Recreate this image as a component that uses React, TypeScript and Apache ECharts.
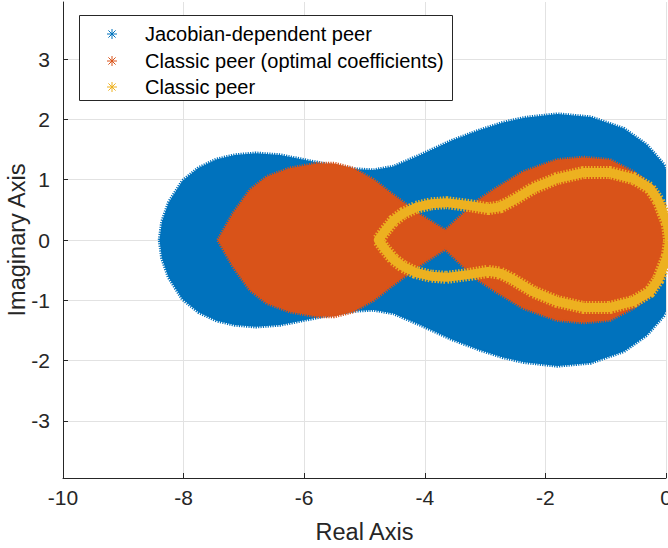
import { useEffect, useRef } from "react";
import * as echarts from "echarts";

// Axis ticks
const xTicks = [-10, -8, -6, -4, -2, 0];
const yTicks = [-3, -2, -1, 0, 1, 2, 3];

// Stability region of the Jacobian-dependent peer method (closed boundary, Re/Im)
const jacobianBoundary: [number, number][] = [
  [-8.4, 0.0], [-8.36, 0.3], [-8.25, 0.62], [-8.02, 0.98], [-7.75, 1.2], [-7.45, 1.34],
  [-7.15, 1.41], [-6.8, 1.44], [-6.4, 1.41], [-6.0, 1.33], [-5.6, 1.25], [-5.2, 1.18],
  [-4.85, 1.16], [-4.52, 1.22], [-4.1, 1.4], [-3.55, 1.65], [-3.1, 1.82], [-2.7, 1.95],
  [-2.35, 2.03], [-1.8, 2.09], [-1.25, 2.04], [-0.7, 1.85], [-0.32, 1.58], [-0.04, 1.26],
  [0.15, 0.85], [0.25, 0.0],
  [0.15, -0.85], [-0.04, -1.26], [-0.32, -1.58], [-0.7, -1.85], [-1.25, -2.04], [-1.8, -2.09],
  [-2.35, -2.03], [-2.7, -1.95], [-3.1, -1.82], [-3.55, -1.65], [-4.1, -1.4], [-4.52, -1.22],
  [-4.85, -1.16], [-5.2, -1.18], [-5.6, -1.25], [-6.0, -1.33], [-6.4, -1.41], [-6.8, -1.44],
  [-7.15, -1.41], [-7.45, -1.34], [-7.75, -1.2], [-8.02, -0.98], [-8.25, -0.62], [-8.36, -0.3],
];

// Stability region of the classic peer method with optimal coefficients
const optimalBoundary: [number, number][] = [
  [-7.43, 0.0], [-7.18, 0.44], [-6.9, 0.83], [-6.62, 1.05], [-6.24, 1.19], [-5.79, 1.27],
  [-5.5, 1.27], [-5.19, 1.19], [-4.85, 1.0], [-4.53, 0.75], [-4.08, 0.42], [-3.66, 0.16],
  [-3.35, 0.45], [-3.1, 0.67], [-2.85, 0.84], [-2.37, 1.13], [-1.81, 1.33], [-1.37, 1.37],
  [-0.93, 1.33], [-0.54, 1.13], [-0.21, 0.88], [-0.02, 0.56], [0.08, 0.25], [0.1, 0.0],
  [0.08, -0.25], [-0.02, -0.56], [-0.21, -0.88], [-0.54, -1.13], [-0.93, -1.33], [-1.37, -1.37],
  [-1.81, -1.33], [-2.37, -1.13], [-2.85, -0.84], [-3.1, -0.67], [-3.35, -0.45], [-3.66, -0.15],
  [-4.08, -0.42], [-4.53, -0.75], [-4.85, -1.0], [-5.19, -1.19], [-5.5, -1.27], [-5.79, -1.27],
  [-6.24, -1.19], [-6.62, -1.05], [-6.9, -0.83], [-7.18, -0.44],
];

// Boundary curve of the classic peer method
const classicCurve: [number, number][] = [
  [0.06, 0.0], [0.02, 0.28], [-0.05, 0.45], [-0.13, 0.66], [-0.27, 0.86], [-0.54, 1.02],
  [-0.93, 1.12], [-1.37, 1.12], [-1.81, 1.02], [-2.2, 0.86], [-2.55, 0.65], [-2.75, 0.55],
  [-2.95, 0.52], [-3.25, 0.57], [-3.64, 0.62], [-3.9, 0.6], [-4.15, 0.54], [-4.36, 0.44],
  [-4.52, 0.32], [-4.66, 0.15], [-4.77, 0.0],
  [-4.66, -0.15], [-4.52, -0.32], [-4.36, -0.44], [-4.15, -0.54], [-3.9, -0.6], [-3.64, -0.62],
  [-3.25, -0.57], [-2.95, -0.52], [-2.75, -0.55], [-2.55, -0.65], [-2.2, -0.86], [-1.81, -1.02],
  [-1.37, -1.12], [-0.93, -1.12], [-0.54, -1.02], [-0.27, -0.86], [-0.13, -0.66], [-0.05, -0.45],
  [0.02, -0.28], [0.06, 0.0],
];

const seriesNames = [
  "Jacobian-dependent peer",
  "Classic peer (optimal coefficients)",
  "Classic peer",
];
const seriesColors = ["#0072BD", "#D95319", "#EDB120"];

const FONT = "'Liberation Sans', Arial, Helvetica, sans-serif";
const INK = "#262626";

// Filled region drawn from its boundary; the dashed stroke gives the marker-fringe edge
function regionSeries(name: string, color: string, boundary: [number, number][], z: number) {
  return {
    type: "custom",
    name,
    clip: true,
    z,
    silent: true,
    data: [0],
    renderItem: (_params: any, api: any) => ({
      type: "polygon",
      shape: { points: boundary.map((p) => api.coord(p)) },
      style: {
        fill: color,
        stroke: color,
        lineWidth: 3.5,
        lineDash: [1.2, 1.2],
      },
    }),
  };
}

// MATLAB-style '*' marker used in the legend
function asterisk(cx: number, cy: number, color: string) {
  const r = 5;
  const d = 3.6;
  const segs = [
    [0, -r, 0, r],
    [-r, 0, r, 0],
    [-d, -d, d, d],
    [-d, d, d, -d],
  ];
  return segs.map((s) => ({
    type: "line",
    z: 102,
    shape: { x1: cx + s[0], y1: cy + s[1], x2: cx + s[2], y2: cy + s[3] },
    style: { stroke: color, lineWidth: 1 },
  }));
}

export default function App() {
  const ref = useRef<HTMLDivElement>(null);

  useEffect(() => {
    if (!ref.current) return;
    const chart = echarts.init(ref.current, undefined, { renderer: "svg" });

    const legendRows = [34, 61, 87];
    const legendGraphics: any[] = [
      {
        type: "rect",
        z: 100,
        shape: { x: 79.5, y: 15.5, width: 373, height: 85 },
        style: { fill: "#ffffff", stroke: INK, lineWidth: 1 },
      },
    ];
    seriesNames.forEach((n, i) => {
      legendGraphics.push(...asterisk(112, legendRows[i], seriesColors[i]));
      legendGraphics.push({
        type: "text",
        z: 102,
        x: 145,
        y: legendRows[i],
        style: {
          text: n,
          fill: "#000000",
          font: `20px ${FONT}`,
          verticalAlign: "middle",
          align: "left",
        },
      });
    });

    chart.setOption({
      animation: false,
      backgroundColor: "#ffffff",
      grid: {
        left: 63,
        right: 2,
        top: 2,
        bottom: 70,
        containLabel: false,
        outerBoundsMode: "none",
      },
      xAxis: {
        type: "value",
        min: -10,
        max: 0,
        interval: 2,
        name: "Real Axis",
        nameLocation: "middle",
        nameGap: 42,
        nameMoveOverlap: false,
        nameTextStyle: { color: INK, fontSize: 23.5, fontFamily: FONT },
        axisLine: { show: true, onZero: false, lineStyle: { color: INK, width: 1 } },
        axisTick: { show: true, inside: true, length: 5, lineStyle: { color: INK } },
        axisLabel: {
          color: INK,
          fontSize: 21,
          fontFamily: FONT,
          margin: 9,
          showMinLabel: true,
          showMaxLabel: true,
          customValues: xTicks,
        },
        splitLine: { show: true, lineStyle: { color: "#e2e2e2", width: 1 } },
      },
      yAxis: {
        type: "value",
        min: -3.95,
        max: 3.95,
        name: "Imaginary Axis",
        nameLocation: "middle",
        nameGap: 34,
        nameMoveOverlap: false,
        nameTextStyle: { color: INK, fontSize: 23.5, fontFamily: FONT },
        axisLine: { show: true, onZero: false, lineStyle: { color: INK, width: 1 } },
        axisTick: {
          show: true,
          inside: true,
          length: 5,
          lineStyle: { color: INK },
          customValues: yTicks,
        },
        axisLabel: {
          color: INK,
          fontSize: 21,
          fontFamily: FONT,
          margin: 13,
          customValues: yTicks,
        },
        splitLine: { show: true, lineStyle: { color: "#e2e2e2", width: 1 } },
      },
      series: [
        regionSeries(seriesNames[0], seriesColors[0], jacobianBoundary, 2),
        regionSeries(seriesNames[1], seriesColors[1], optimalBoundary, 3),
        {
          type: "line",
          name: seriesNames[2],
          data: classicCurve,
          z: 4,
          clip: true,
          showSymbol: false,
          silent: true,
          lineStyle: { color: seriesColors[2], width: 13, type: [1.5, 1.5] },
        },
        {
          type: "line",
          name: seriesNames[2] + " ",
          data: classicCurve,
          z: 5,
          clip: true,
          showSymbol: false,
          silent: true,
          lineStyle: { color: seriesColors[2], width: 9, join: "round" },
        },
      ],
      graphic: legendGraphics,
    });

    return () => chart.dispose();
  }, []);

  return (
    <div
      ref={ref}
      style={{ position: "fixed", left: 0, top: 0, width: 668, height: 548 }}
    />
  );
}
